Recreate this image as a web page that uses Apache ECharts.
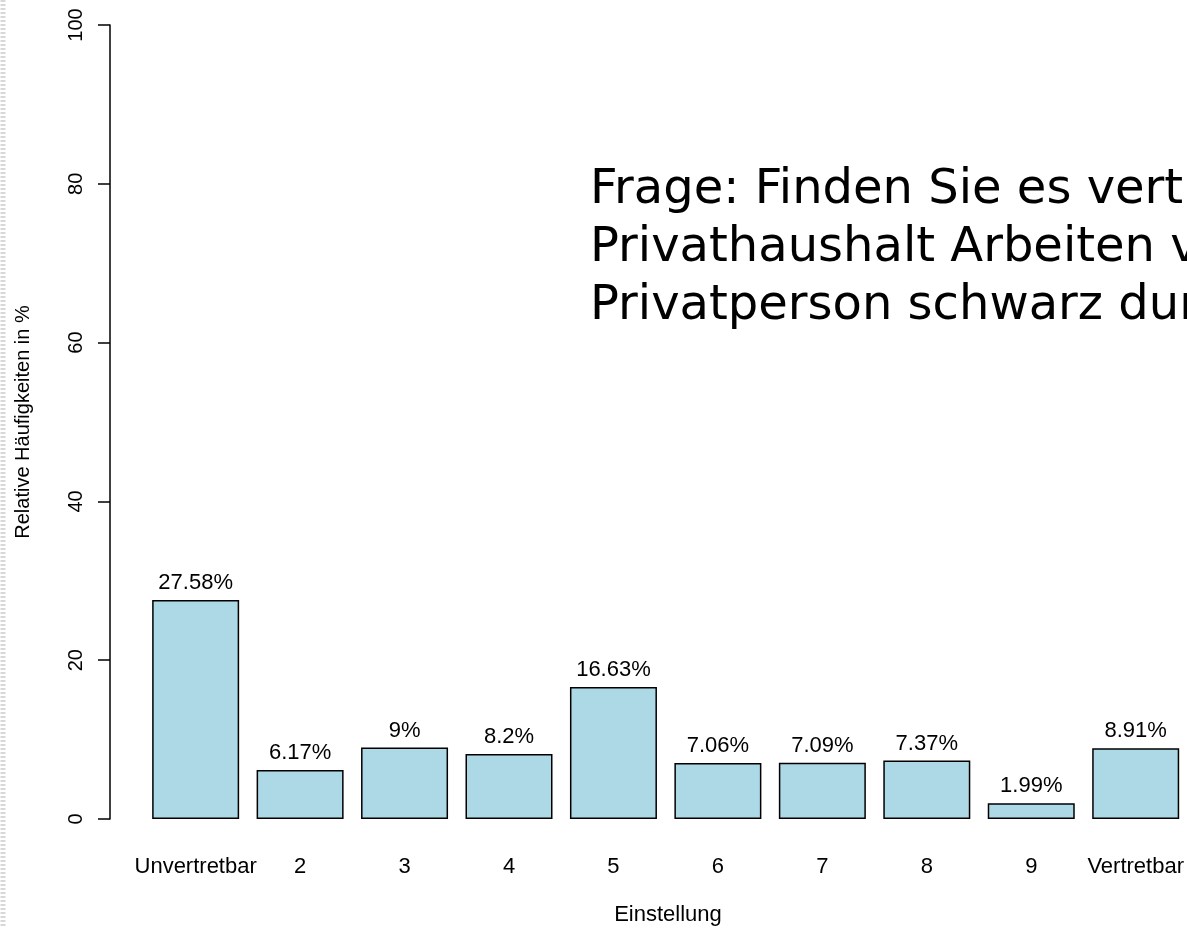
<!DOCTYPE html>
<html>
<head>
<meta charset="utf-8">
<script src="https://cdn.jsdelivr.net/npm/echarts@6/dist/echarts.min.js"></script>
<style>
  html, body { margin: 0; padding: 0; background: #fff; }
  #chart { width: 1187px; height: 928px; }
</style>
</head>
<body>
<div id="chart"></div>
<script>
// Kategorien und relative Häufigkeiten (%)
const categories = ["Unvertretbar", "2", "3", "4", "5", "6", "7", "8", "9", "Vertretbar"];
const values = [27.58, 6.17, 9, 8.2, 16.63, 7.06, 7.09, 7.37, 1.99, 8.91];
const yTicks = [0, 20, 40, 60, 80, 100];
const barPositions = categories.map((c, i) => i + 1);

const questionText = [
  "Frage: Finden Sie es vertretbar, in einem",
  "Privathaushalt Arbeiten von einer",
  "Privatperson schwarz durchführen zu lassen?"
].join("\n");

const chart = echarts.init(document.getElementById("chart"));

const option = {
  backgroundColor: "#fff",
  animation: false,
  textStyle: { fontFamily: "Liberation Sans, Arial, sans-serif" },
  title: {
    text: questionText,
    left: 585,
    top: 157,
    textStyle: {
      fontFamily: "DejaVu Sans",
      fontSize: 48,
      fontWeight: "normal",
      color: "#000",
      lineHeight: 58
    }
  },
  grid: {
    left: 110,
    right: 0,
    top: 25,
    bottom: 109
  },
  xAxis: {
    type: "value",
    min: 0.18,
    max: 10.447,
    axisLine: { show: false },
    axisTick: { show: false },
    splitLine: { show: false },
    axisLabel: {
      customValues: barPositions,
      margin: 37,
      fontSize: 22,
      color: "#000",
      formatter: (v) => categories[Math.round(v) - 1] || ""
    }
  },
  yAxis: {
    type: "value",
    min: yTicks[0],
    max: yTicks[yTicks.length - 1],
    interval: 20,
    name: "Relative Häufigkeiten in %",
    nameLocation: "middle",
    nameGap: 77,
    nameTextStyle: { fontSize: 20, color: "#000" },
    axisLine: { show: true, lineStyle: { color: "#000", width: 1.5 } },
    axisTick: { show: true, length: 12, lineStyle: { color: "#000", width: 1.5 } },
    axisLabel: { rotate: 90, margin: 24, fontSize: 20, color: "#000" },
    splitLine: { show: false }
  },
  series: [
    {
      type: "bar",
      data: values.map((v, i) => [barPositions[i], v]),
      barWidth: 87,
      itemStyle: { color: "#ADD8E6", borderColor: "#000", borderWidth: 1.5 },
      label: {
        show: true,
        position: "top",
        distance: 6,
        fontSize: 22,
        color: "#000",
        formatter: (p) => p.value[1] + "%"
      }
    }
  ],
  graphic: [
    {
      type: "text",
      x: 668,
      y: 915,
      style: {
        text: "Einstellung",
        fontSize: 22,
        fill: "#000",
        align: "center",
        verticalAlign: "middle",
        fontFamily: "Liberation Sans, Arial, sans-serif"
      }
    },
    {
      type: "line",
      shape: { x1: 3, y1: 0, x2: 3, y2: 928 },
      style: { stroke: "#d8d8d8", lineWidth: 5, lineDash: [2, 2] }
    }
  ]
};

chart.setOption(option);
</script>
</body>
</html>
